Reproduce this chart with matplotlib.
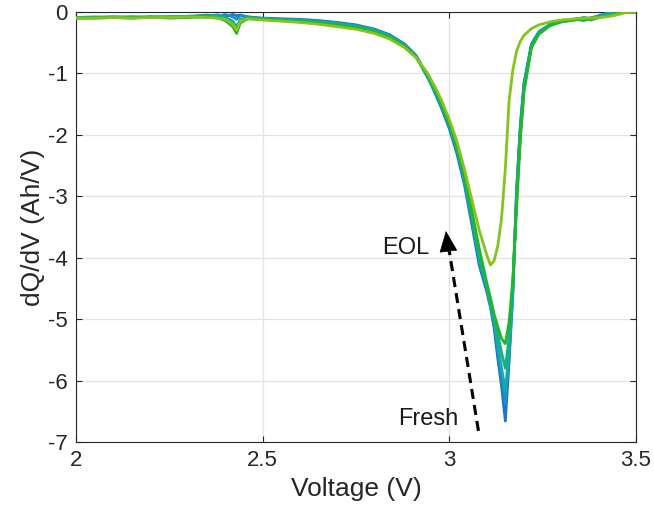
import matplotlib
matplotlib.use("Agg")
import matplotlib.pyplot as plt

plt.rcParams["font.family"] = ["Liberation Sans", "DejaVu Sans"]

# ── data: dQ/dV curves from fresh to end of life ──────────────────────────────
voltage = [2.00, 2.05, 2.10, 2.15, 2.20, 2.25, 2.30, 2.35, 2.38, 2.40, 2.42, 2.43, 2.44, 2.46,
           2.50, 2.55, 2.60, 2.65, 2.70, 2.75, 2.80, 2.84, 2.88, 2.91,
           2.94, 2.96, 2.98, 3.00, 3.02, 3.04, 3.06, 3.08, 3.10, 3.11, 3.12, 3.13, 3.14, 3.15,
           3.16, 3.17, 3.18, 3.19, 3.20, 3.22, 3.24, 3.27, 3.30, 3.34, 3.36, 3.38, 3.40, 3.42,
           3.44, 3.46, 3.48, 3.50]

dqdv_c1 = [-0.09, -0.09, -0.08, -0.09, -0.08, -0.08, -0.07, -0.06, -0.05, -0.07, -0.04, -0.06, -0.05, -0.08,
           -0.10, -0.11, -0.12, -0.14, -0.17, -0.21, -0.28, -0.37, -0.52, -0.70,
           -1.02, -1.30, -1.58, -1.90, -2.30, -2.80, -3.45, -4.12, -4.55, -4.80, -5.15, -5.65, -6.10, -6.66,
           -5.70, -4.60, -2.90, -1.85, -1.15, -0.52, -0.32, -0.20, -0.15, -0.12, -0.09, -0.11, -0.06, -0.02,
           0.00, 0.00, 0.00, 0.00]
dqdv_c2 = [-0.09, -0.08, -0.09, -0.08, -0.09, -0.08, -0.08, -0.05, -0.07, -0.04, -0.08, -0.12, -0.06, -0.08,
           -0.11, -0.12, -0.13, -0.15, -0.18, -0.22, -0.29, -0.38, -0.53, -0.71,
           -1.05, -1.28, -1.55, -1.86, -2.25, -2.75, -3.38, -4.05, -4.50, -4.78, -5.10, -5.50, -5.95, -6.38,
           -5.60, -4.55, -2.95, -1.90, -1.18, -0.53, -0.33, -0.21, -0.15, -0.11, -0.13, -0.09, -0.07, -0.03,
           0.00, 0.00, 0.00, 0.00]
dqdv_c3 = [-0.09, -0.09, -0.08, -0.09, -0.08, -0.09, -0.07, -0.07, -0.05, -0.09, -0.15, -0.24, -0.12, -0.09,
           -0.11, -0.12, -0.14, -0.16, -0.19, -0.23, -0.30, -0.39, -0.54, -0.71,
           -1.03, -1.26, -1.53, -1.84, -2.22, -2.72, -3.33, -4.00, -4.48, -4.75, -5.05, -5.42, -5.80, -6.17,
           -5.50, -4.50, -3.00, -1.95, -1.20, -0.54, -0.34, -0.21, -0.15, -0.12, -0.10, -0.12, -0.08, -0.04,
           -0.01, 0.00, 0.00, 0.00]
dqdv_c4 = [-0.10, -0.09, -0.09, -0.08, -0.09, -0.08, -0.08, -0.06, -0.09, -0.12, -0.20, -0.30, -0.16, -0.10,
           -0.12, -0.13, -0.15, -0.17, -0.20, -0.24, -0.31, -0.40, -0.55, -0.72,
           -1.02, -1.25, -1.52, -1.82, -2.20, -2.68, -3.28, -3.93, -4.45, -4.70, -4.98, -5.25, -5.55, -5.80,
           -5.30, -4.45, -3.10, -2.00, -1.25, -0.55, -0.35, -0.22, -0.16, -0.12, -0.14, -0.10, -0.09, -0.06,
           -0.02, 0.00, 0.00, 0.00]
dqdv_c5 = [-0.10, -0.10, -0.09, -0.10, -0.08, -0.10, -0.09, -0.08, -0.10, -0.14, -0.24, -0.35, -0.18, -0.11,
           -0.12, -0.14, -0.16, -0.18, -0.22, -0.26, -0.33, -0.42, -0.56, -0.73,
           -1.00, -1.23, -1.50, -1.80, -2.17, -2.65, -3.22, -3.85, -4.40, -4.65, -4.92, -5.13, -5.32, -5.40,
           -5.05, -4.35, -3.20, -2.10, -1.30, -0.58, -0.36, -0.22, -0.16, -0.13, -0.11, -0.13, -0.09, -0.07,
           -0.05, -0.01, 0.00, 0.00]
dqdv_c6 = [-0.10, -0.10, -0.09, -0.10, -0.09, -0.09, -0.08, -0.09, -0.10, -0.12, -0.20, -0.30, -0.15, -0.11,
           -0.13, -0.15, -0.17, -0.20, -0.24, -0.28, -0.35, -0.44, -0.58, -0.74,
           -0.98, -1.20, -1.45, -1.75, -2.10, -2.55, -3.05, -3.55, -3.95, -4.12, -4.05, -3.80, -3.35, -2.55,
           -1.45, -0.95, -0.64, -0.48, -0.38, -0.27, -0.21, -0.16, -0.13, -0.11, -0.10, -0.10, -0.09, -0.08,
           -0.06, -0.03, 0.00, 0.00]

curves = [dqdv_c1, dqdv_c2, dqdv_c3, dqdv_c4, dqdv_c5, dqdv_c6]
colors = ["#1f74c4", "#1990c6", "#15a9ae", "#12b37c", "#1fb82a", "#86c31b"]

# arrow from the fresh cell towards end of life
arrow_tail = (3.078, -6.82)
arrow_head = (2.99, -3.52)

# ── figure ────────────────────────────────────────────────────────────────────
fig = plt.figure(figsize=(6.54, 5.19), dpi=100)
ax = fig.add_axes([0.1162, 0.1484, 0.8563, 0.8285])

for y, c in zip(curves, colors):
    ax.plot(voltage, y, color=c, linewidth=2.0, solid_joinstyle="round", zorder=3)

# dashed shaft + filled head
ax.plot([arrow_tail[0], arrow_head[0] + 0.003], [arrow_tail[1], arrow_head[1] - 0.12],
        color="black", linewidth=2.2, dashes=(3.3, 2.0), zorder=4)
ax.annotate("", xy=arrow_head, xytext=(arrow_head[0] + 0.004, arrow_head[1] - 0.2),
            arrowprops=dict(arrowstyle="-|>,head_length=0.7,head_width=0.3",
                            color="black", lw=0.5, mutation_scale=20),
            zorder=5)

ax.text(2.882, -3.84, "EOL", fontsize=17, ha="center", va="center", color="#1a1a1a")
ax.text(2.944, -6.62, "Fresh", fontsize=17, ha="center", va="center", color="#1a1a1a")

ax.set_xlim(2, 3.5)
ax.set_ylim(-7, 0)
ax.set_xticks([2, 2.5, 3, 3.5])
ax.set_xticklabels(["2", "2.5", "3", "3.5"])
ax.set_yticks(range(-7, 1))
ax.set_yticklabels([str(v) for v in range(-7, 1)])

ax.grid(True, color="#e3e3e3", linewidth=0.9)
ax.set_axisbelow(True)
ax.tick_params(direction="in", length=4, width=0.8, colors="#262626",
               labelsize=16, top=True, right=True, pad=6)
for s in ax.spines.values():
    s.set_color("#262626")
    s.set_linewidth(0.8)

ax.set_xlabel("Voltage (V)", fontsize=19, color="#262626", labelpad=4)
ax.set_ylabel("dQ/dV (Ah/V)", fontsize=19, color="#262626", labelpad=2)

fig.savefig("out.png", dpi=100)
